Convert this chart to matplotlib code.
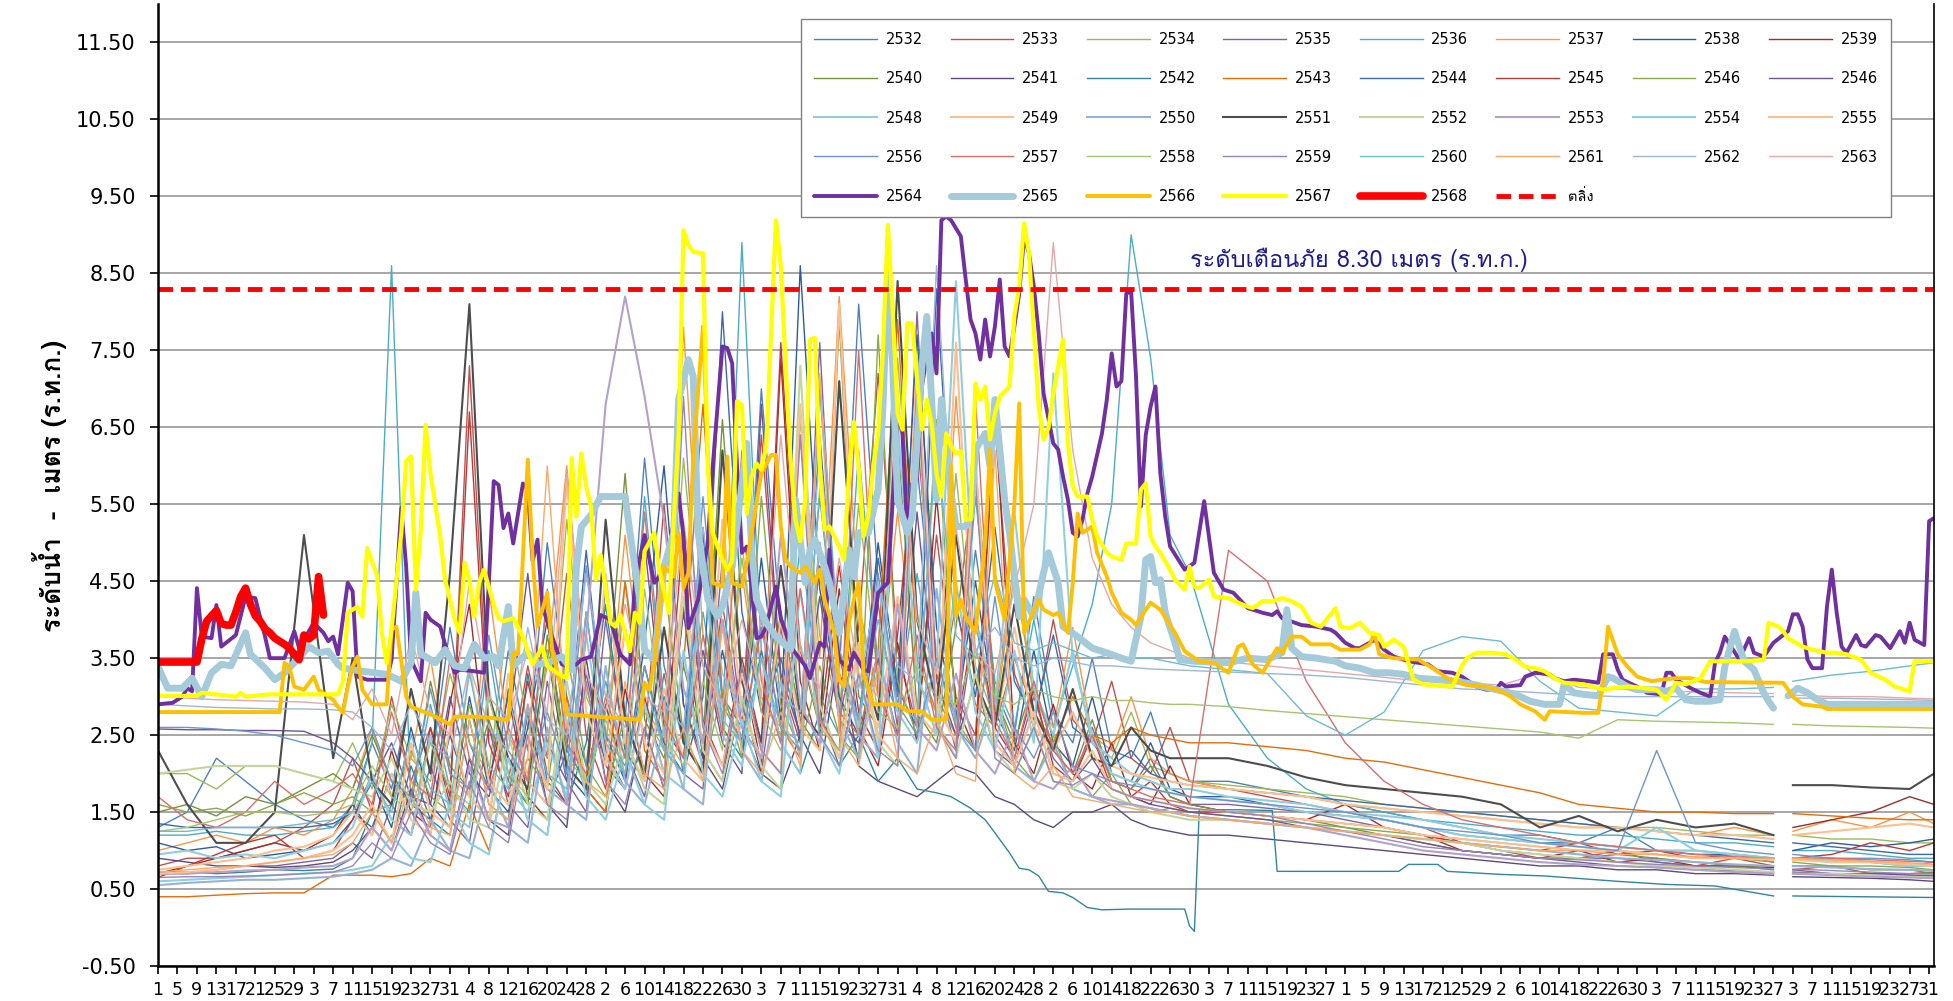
# Water level chart, station ร.ท.ก. - yearly comparison 2532-2568
import numpy as np
import matplotlib.pyplot as plt
from matplotlib import font_manager, ft2font

# look for an installed font that has Thai glyphs
thai_font = 'DejaVu Sans'
for f in font_manager.fontManager.ttflist:
    try:
        if f.weight in (400, 'normal', 'regular') and f.style == 'normal':
            if ft2font.FT2Font(f.fname).get_char_index(0x0E23):
                thai_font = f.name
                break
    except Exception:
        pass

# ---------------- data ----------------
# x axis = day of water year (0 = 1 April ... 365 = 31 March)
tick_labels = ['1', '5', '9', '13', '17', '21', '25', '29',
               '3', '7', '11', '15', '19', '23', '27', '31',
               '4', '8', '12', '16', '20', '24', '28',
               '2', '6', '10', '14', '18', '22', '26', '30',
               '3', '7', '11', '15', '19', '23', '27', '31',
               '4', '8', '12', '16', '20', '24', '28',
               '2', '6', '10', '14', '18', '22', '26', '30',
               '3', '7', '11', '15', '19', '23', '27',
               '1', '5', '9', '13', '17', '21', '25', '29',
               '2', '6', '10', '14', '18', '22', '26', '30',
               '3', '7', '11', '15', '19', '23', '27',
               '3', '7', '11', '15', '19', '23', '27', '31']
tick_days = list(range(0, 365, 4))
gap_day = 334          # empty slot (29 Feb) - lines break here
bank_level = 8.30      # ตลิ่ง / warning level

# sampling days used for the older years
thin_days = [0, 6, 12, 18, 24, 30, 36] + list(range(40, 213, 4)) + \
            list(range(220, 333, 8)) + [336, 344, 352, 360, 365]

v2532 = [1.3, 1.5, 2.2, 1.9, 1.6, 1.4, 1.3,
         1.6, 2.4, 1.8, 3.1, 2.0, 3.9, 2.4, 1.8, 3.6, 2.3, 5.0, 3.0, 2.1, 4.4, 2.7, 6.1,
         3.4, 2.4, 5.2, 3.0, 2.6, 7.0, 3.9, 2.8, 5.6, 3.3, 8.1, 4.5, 3.0, 6.0, 3.5, 2.7,
         4.9, 3.1, 2.5, 4.3, 2.8, 2.4, 3.5, 2.3, 2.2, 2.8, 2.0, 1.9,
         1.9, 1.8, 1.7, 1.6, 1.5, 1.4, 1.3, 1.2, 1.2, 1.1, 1.3, 1.0, 1.0, 0.95, 0.9,
         0.9, 0.9, 0.85, 0.8, 0.85]
v2533 = [0.8, 0.9, 0.9, 1.0, 1.1, 1.3, 1.6,
         2.2, 1.5, 3.0, 1.9, 2.6, 1.7, 7.3, 2.6, 1.9, 3.4, 2.2, 4.6, 2.5, 1.8, 3.9, 2.4,
         5.5, 2.9, 2.1, 4.2, 2.6, 6.4, 3.2, 2.4, 4.7, 2.7, 3.9, 7.2, 3.6, 2.6, 5.1, 3.0,
         2.5, 6.5, 3.3, 2.6, 4.0, 2.7, 2.4, 3.2, 2.2, 2.0, 2.6, 1.9,
         1.8, 1.7, 1.6, 1.5, 1.4, 1.3, 1.1, 1.0, 0.9, 0.9, 1.0, 0.85, 0.8, 0.9, 0.8,
         0.75, 0.8, 0.7, 0.7, 0.72]
v2534 = [2.0, 2.0, 1.8, 2.1, 2.1, 2.0, 1.9,
         2.4, 1.8, 2.9, 2.2, 1.9, 3.3, 2.4, 2.0, 4.1, 2.6, 2.2, 5.3, 3.0, 2.4, 4.5, 2.8,
         2.3, 6.1, 3.4, 2.6, 4.8, 3.0, 2.5, 6.6, 3.8, 2.8, 5.5, 3.2, 7.4, 4.1, 2.9, 5.9,
         3.4, 2.7, 4.6, 3.0, 2.5, 3.6, 2.4, 2.2, 2.8, 2.1, 2.0, 1.9,
         1.85, 1.8, 1.75, 1.7, 1.6, 1.55, 1.5, 1.45, 1.4, 1.35, 1.3, 1.3, 1.25, 1.2, 1.2,
         1.2, 1.15, 1.15, 1.1, 1.1]
v2535 = [0.7, 0.7, 0.75, 0.8, 0.8, 0.85, 0.9,
         1.1, 0.9, 1.6, 1.2, 2.1, 1.4, 1.1, 2.6, 1.6, 1.3, 3.2, 1.9, 1.5, 4.0, 2.3, 1.7,
         3.3, 2.0, 1.8, 4.8, 2.6, 2.0, 3.9, 2.4, 7.6, 3.0, 2.2, 4.2, 2.6, 8.0, 3.3, 2.3,
         4.0, 2.5, 2.1, 3.0, 2.2, 1.9, 2.6, 1.9, 1.8, 2.2, 1.7, 1.6,
         1.6, 1.55, 1.5, 1.4, 1.3, 1.2, 1.1, 1.0, 0.95, 0.9, 0.9, 0.85, 0.8, 0.8, 0.75,
         0.75, 0.7, 0.7, 0.68, 0.66]
v2536 = [1.2, 1.2, 1.25, 1.2, 1.2, 1.25, 1.3,
         1.5, 2.4, 8.6, 1.6, 2.9, 1.8, 1.5, 3.6, 2.0, 1.6, 4.4, 2.4, 1.8, 3.2, 2.2, 5.6,
         2.9, 2.2, 4.1, 2.6, 8.9, 3.6, 2.4, 5.0, 3.0, 2.5, 6.2, 3.4, 2.8, 4.6, 3.0, 2.5,
         5.6, 3.2, 2.6, 4.0, 2.6, 3.4, 4.2, 5.5, 9.0, 7.4, 5.1, 4.6,
         2.9, 2.2, 1.8, 1.6, 1.5, 1.4, 1.35, 1.3, 1.25, 1.2, 1.2, 1.15, 1.1, 1.1, 1.05,
         1.0, 1.0, 0.95, 0.9, 0.9]
v2537 = [1.0, 1.1, 1.2, 1.1, 1.3, 1.2, 1.4,
         1.8, 2.6, 1.7, 2.2, 3.5, 2.0, 1.7, 4.4, 2.5, 2.0, 3.4, 6.0, 3.1, 2.3, 5.1, 2.9,
         2.4, 7.8, 3.8, 2.7, 4.6, 2.9, 2.6, 6.4, 3.5, 8.2, 4.2, 3.0, 5.4, 3.2, 2.8, 6.9,
         3.6, 2.8, 4.8, 3.0, 2.6, 3.9, 2.5, 2.3, 3.0, 2.2, 2.0, 1.9,
         1.8, 1.75, 1.7, 1.6, 1.55, 1.5, 1.45, 1.4, 1.35, 1.3, 1.3, 1.25, 1.2, 1.3, 1.2,
         1.25, 1.4, 1.3, 1.5, 1.35]
v2538 = [1.1, 1.0, 1.05, 0.9, 0.95, 1.0, 1.1,
         1.4, 1.9, 1.3, 2.6, 1.6, 1.3, 3.0, 1.8, 1.5, 2.6, 4.0, 2.0, 1.7, 2.9, 1.9, 3.7,
         6.0, 2.9, 2.2, 3.6, 2.4, 4.8, 2.7, 8.6, 4.4, 3.0, 2.5, 5.0, 3.1, 7.7, 3.9, 2.7,
         4.5, 2.8, 2.3, 3.6, 2.4, 2.1, 3.0, 2.0, 1.9, 2.4, 1.8, 1.7,
         1.7, 1.6, 1.5, 1.45, 1.4, 1.3, 1.2, 1.15, 1.1, 1.1, 1.05, 1.0, 0.95, 0.95, 0.9,
         1.0, 1.1, 1.05, 1.1, 1.15]
v2539 = [0.7, 0.8, 0.9, 1.0, 1.1, 1.0, 1.2,
         1.6, 1.2, 2.3, 1.5, 1.3, 2.9, 4.2, 1.9, 3.0, 1.7, 1.4, 2.6, 1.8, 1.5, 3.1, 2.0,
         1.7, 4.2, 2.3, 1.9, 3.4, 2.1, 7.4, 3.2, 2.3, 4.4, 2.6, 2.1, 3.7, 2.4, 5.6, 2.9,
         2.3, 6.8, 2.4, 2.0, 2.9, 2.0, 1.8, 2.4, 1.7, 1.6, 2.1, 1.6,
         1.5, 1.45, 1.4, 1.6, 1.3, 1.2, 1.0, 0.95, 0.9, 1.0, 0.85, 0.9, 0.8, 0.8, 0.78,
         1.3, 1.4, 1.5, 1.7, 1.6]
v2540 = [1.5, 1.6, 1.45, 1.7, 1.6, 1.8, 2.0,
         1.8, 2.5, 1.9, 1.6, 3.2, 2.1, 1.8, 2.7, 1.9, 1.6, 3.8, 2.3, 1.9, 2.8, 5.9, 2.7,
         2.2, 3.4, 2.4, 6.6, 3.3, 2.4, 4.1, 2.7, 2.3, 7.9, 3.0, 2.6, 6.4, 2.8, 2.4, 3.9,
         6.0, 3.0, 2.4, 3.2, 2.3, 2.0, 2.7, 1.9, 1.8, 2.1, 1.7, 1.6,
         1.5, 1.45, 1.4, 1.3, 1.2, 1.1, 1.0, 0.95, 0.9, 0.9, 0.95, 0.9, 0.85, 0.8, 0.8,
         0.8, 0.8, 0.75, 0.75, 0.7]
v2541 = [0.9, 0.85, 0.8, 0.8, 0.78, 0.8, 0.85,
         1.0, 1.3, 1.0, 1.8, 1.2, 1.0, 2.2, 1.4, 1.2, 2.8, 1.6, 1.3, 3.5, 1.9, 1.5, 2.6,
         1.8, 4.1, 2.2, 1.8, 3.0, 2.0, 1.8, 2.5, 2.0, 3.6, 2.1, 1.9, 1.8, 1.7, 1.9, 2.1,
         2.0, 1.7, 1.6, 1.4, 1.3, 1.5, 1.5, 1.6, 1.4, 1.3, 1.25, 1.2,
         1.2, 1.15, 1.1, 1.05, 1.0, 0.95, 0.9, 0.85, 0.8, 0.8, 0.75, 0.75, 0.7, 0.7, 0.68,
         0.66, 0.65, 0.64, 0.62, 0.6]
# 2542 has its own day list (sharp drop in October)
d2542 = [0, 6, 12, 18, 24, 30, 36, 40, 44, 48, 52, 56, 60, 64, 68, 72, 76, 80, 84, 88,
         92, 96, 100, 104, 108, 112, 116, 120, 124, 128, 132, 136, 140, 144, 148, 152,
         156, 160, 163, 167, 170, 172, 175, 177, 179, 181, 183, 186, 188, 191, 194, 200,
         208, 211, 212, 213, 214, 222, 229, 230, 240, 255, 257, 263, 265, 276, 285, 300,
         310, 320, 332, 336, 350, 365]
v2542 = [0.72, 0.72, 0.7, 0.72, 0.75, 0.74, 0.76, 0.9, 1.5, 1.1, 2.1, 1.4, 1.2, 2.7, 1.6,
         1.4, 3.3, 1.9, 1.6, 2.4, 4.2, 2.3, 1.9, 3.0, 2.2, 5.1, 2.6, 2.2, 3.6, 2.4, 2.0,
         2.8, 2.1, 2.5, 1.9, 2.2, 1.8, 1.75, 1.7, 1.55, 1.4, 1.23, 0.97, 0.77, 0.75, 0.67,
         0.47, 0.45, 0.39, 0.26, 0.23, 0.24, 0.24, 0.24, 0.02, -0.05, 1.53, 1.53, 1.52,
         0.73, 0.73, 0.73, 0.82, 0.82, 0.73, 0.69, 0.67, 0.6, 0.56, 0.54, 0.41, 0.41, 0.4,
         0.39]
v2543 = [0.4, 0.4, 0.42, 0.44, 0.45, 0.45, 0.68,
         0.68, 0.68, 0.66, 0.7, 0.9, 0.8, 1.6, 1.0, 2.2, 1.4, 1.2, 3.0, 1.8, 1.5, 4.5, 2.3,
         1.9, 3.4, 6.8, 3.0, 2.4, 4.0, 2.6, 2.2, 5.0, 2.8, 2.5, 3.6, 7.9, 3.5, 2.8, 4.2,
         2.9, 2.6, 3.5, 2.8, 2.4, 3.0, 2.5, 2.4, 2.6, 2.5, 2.45, 2.4,
         2.4, 2.35, 2.3, 2.2, 2.15, 2.05, 1.95, 1.85, 1.75, 1.6, 1.55, 1.5, 1.5, 1.48, 1.48,
         1.48, 1.45, 1.42, 1.4, 1.4]
v2544 = [1.35, 1.3, 1.3, 1.3, 1.3, 1.3, 1.35,
         1.5, 1.3, 2.0, 1.6, 1.4, 2.5, 1.7, 1.4, 3.1, 1.9, 1.6, 2.3, 4.9, 2.5, 1.9, 3.4,
         2.4, 2.0, 3.0, 8.0, 4.1, 2.8, 3.5, 2.5, 6.4, 3.3, 2.7, 4.8, 3.1, 2.6, 8.3, 4.2,
         3.0, 5.2, 3.2, 2.7, 3.8, 2.6, 2.4, 2.1, 2.3, 2.0, 1.9, 1.85,
         1.8, 1.75, 1.7, 1.65, 1.6, 1.55, 1.5, 1.45, 1.4, 1.35, 1.3, 1.25, 1.2, 1.15, 1.1,
         1.1, 1.05, 1.0, 0.95, 0.95]
v2545 = [0.65, 0.8, 0.95, 1.1, 1.2, 0.9, 1.0,
         1.4, 2.0, 1.4, 1.2, 2.6, 1.6, 6.7, 2.4, 1.7, 3.2, 2.0, 1.6, 4.1, 2.3, 1.8, 3.0,
         2.0, 5.2, 2.7, 2.1, 3.5, 2.4, 7.6, 3.6, 2.6, 4.7, 2.8, 2.3, 3.8, 6.5, 3.2, 2.5,
         4.1, 2.6, 2.2, 3.1, 2.1, 1.9, 2.5, 1.8, 1.7, 1.9, 1.6, 1.5,
         1.5, 1.45, 1.4, 1.35, 1.3, 1.2, 1.1, 1.05, 1.0, 1.1, 0.95, 1.0, 0.9, 0.95, 0.85,
         0.9, 0.95, 1.1, 1.0, 1.1]
v2546a = [1.6, 1.5, 1.55, 1.45, 1.6, 1.75, 1.6,
          1.7, 1.5, 1.6, 2.3, 1.7, 1.5, 2.9, 1.9, 1.6, 2.2, 1.8, 3.6, 2.1, 1.7, 2.8, 1.9,
          4.5, 2.5, 2.0, 3.1, 2.2, 5.6, 2.9, 2.3, 3.4, 2.5, 2.2, 7.7, 3.2, 2.5, 6.6, 2.7,
          2.3, 3.1, 2.2, 1.9, 2.5, 1.8, 1.7, 2.0, 1.6, 1.5, 1.55, 1.5,
          1.45, 1.4, 1.35, 1.3, 1.25, 1.2, 1.15, 1.1, 1.05, 1.0, 1.0, 0.95, 0.9, 0.9, 0.85,
          0.85, 0.8, 0.8, 0.78, 0.75]
v2546b = [2.58, 2.57, 2.57, 2.56, 2.56, 2.55, 2.4,
          2.2, 1.9, 2.4, 1.7, 1.6, 3.0, 2.0, 1.7, 2.6, 4.6, 2.4, 1.9, 3.3, 2.1, 1.8, 5.0,
          2.6, 2.2, 3.6, 2.4, 2.0, 6.8, 3.3, 2.5, 4.3, 2.7, 2.4, 3.5, 2.5, 5.4, 2.9, 2.4,
          3.2, 2.3, 2.1, 2.8, 2.0, 1.9, 2.2, 1.8, 1.7, 1.6, 1.55, 1.5,
          1.45, 1.4, 1.3, 1.25, 1.2, 1.1, 1.0, 0.95, 0.9, 0.85, 0.8, 0.78, 0.75, 0.74, 0.72,
          0.72, 0.7, 0.7, 0.68, 0.68]
v2548 = [0.95, 1.0, 0.9, 0.95, 0.9, 1.0, 1.1,
         1.3, 2.0, 1.4, 1.2, 2.5, 1.5, 1.3, 3.1, 1.8, 1.5, 2.4, 1.7, 3.8, 2.2, 1.8, 2.9,
         2.0, 1.8, 4.7, 2.5, 2.1, 3.5, 2.4, 2.0, 7.1, 3.6, 2.6, 4.5, 2.8, 2.4, 3.4, 8.4,
         4.0, 2.9, 5.4, 3.1, 2.5, 3.6, 2.4, 2.2, 2.0, 1.9, 1.8, 1.8,
         1.7, 1.65, 1.6, 1.5, 1.45, 1.4, 1.3, 1.2, 1.15, 1.1, 1.05, 1.0, 1.0, 0.95, 0.9,
         0.9, 0.85, 0.85, 0.8, 0.8]
v2549 = [0.75, 0.8, 0.85, 0.9, 1.0, 1.05, 1.2,
         1.5, 1.2, 2.0, 1.4, 1.2, 2.6, 1.7, 1.4, 3.3, 1.9, 1.6, 2.7, 1.8, 4.6, 2.4, 1.9,
         3.1, 2.2, 1.9, 5.3, 2.8, 2.2, 4.0, 2.6, 2.3, 8.1, 3.2, 2.6, 4.3, 2.8, 2.5, 7.6,
         3.2, 2.6, 3.9, 2.6, 2.3, 2.8, 2.2, 2.1, 2.0, 1.95, 1.9, 1.85,
         1.8, 1.75, 1.7, 1.6, 1.55, 1.5, 1.45, 1.4, 1.35, 1.3, 1.3, 1.25, 1.2, 1.2, 1.15,
         1.2, 1.25, 1.3, 1.35, 1.3]
v2550 = [0.55, 0.58, 0.6, 0.62, 0.62, 0.64, 0.66,
         0.7, 0.75, 0.9, 0.8, 1.4, 1.0, 0.9, 1.9, 1.3, 1.1, 2.6, 1.6, 1.4, 3.4, 1.9, 1.6,
         2.6, 1.8, 1.6, 4.0, 2.3, 1.9, 3.2, 2.2, 5.0, 2.7, 2.2, 3.6, 2.4, 2.0, 4.4, 2.6,
         2.2, 3.0, 2.1, 1.9, 2.4, 1.8, 1.7, 1.6, 1.6, 1.55, 1.5, 1.45,
         1.4, 1.35, 1.3, 1.25, 1.2, 1.15, 1.1, 1.05, 1.0, 0.95, 0.9, 0.88, 0.85, 0.82, 0.8,
         0.8, 0.78, 0.76, 0.75, 0.74]
v2551 = [2.3, 1.6, 1.1, 1.1, 1.5, 5.1, 2.2,
         3.5, 1.9, 1.6, 3.1, 2.0, 4.6, 8.1, 3.0, 2.2, 1.8, 3.6, 2.1, 1.8, 5.3, 2.7, 2.0,
         3.9, 2.4, 2.0, 6.2, 3.2, 2.4, 4.7, 2.8, 2.5, 7.1, 3.6, 2.7, 8.4, 4.0, 2.9, 5.1,
         3.2, 2.6, 4.2, 2.8, 2.3, 3.1, 2.2, 2.1, 2.6, 2.3, 2.2, 2.2,
         2.2, 2.1, 1.95, 1.85, 1.8, 1.75, 1.7, 1.6, 1.3, 1.45, 1.25, 1.4, 1.3, 1.35, 1.2,
         1.85, 1.85, 1.82, 1.8, 2.0]
v2552 = [2.0, 2.05, 2.1, 2.1, 2.1, 2.0, 1.9,
         1.8, 1.7, 2.2, 1.6, 1.5, 1.9, 1.4, 1.3, 2.5, 1.6, 1.4, 3.2, 1.9, 1.6, 2.5, 1.8,
         1.6, 4.3, 2.3, 1.9, 3.0, 2.1, 1.8, 7.3, 2.9, 2.2, 3.7, 2.4, 2.1, 6.9, 2.7, 2.2,
         3.3, 2.3, 2.0, 2.6, 1.9, 1.8, 2.0, 1.7, 1.6, 1.5, 1.45, 1.4,
         1.4, 1.35, 1.3, 1.25, 1.2, 1.15, 1.1, 1.0, 0.95, 0.9, 0.85, 0.8, 0.78, 0.75, 0.72,
         0.7, 0.7, 0.68, 0.66, 0.65]
v2553 = [0.7, 0.7, 0.72, 0.74, 0.75, 0.78, 0.8,
         0.9, 1.3, 1.0, 1.7, 1.2, 1.0, 2.1, 1.4, 1.3, 2.9, 1.8, 1.6, 3.8, 6.8, 8.2, 6.9,
         5.3, 3.1, 2.4, 4.0, 2.6, 2.2, 5.1, 2.9, 2.4, 3.6, 2.5, 2.2, 4.2, 2.6, 2.3, 3.3,
         2.3, 2.0, 2.6, 1.9, 1.8, 2.1, 1.7, 1.65, 1.6, 1.55, 1.5, 1.45,
         1.4, 1.35, 1.3, 1.2, 1.1, 1.0, 0.95, 0.9, 0.85, 0.82, 0.8, 0.78, 0.75, 0.72, 0.7,
         0.7, 0.68, 0.66, 0.65, 0.64]
v2554 = [0.6, 0.62, 0.64, 0.66, 0.68, 0.7, 0.72,
         0.75, 0.8, 1.2, 0.9, 0.85, 1.6, 1.1, 0.95, 2.2, 1.4, 1.2, 2.9, 1.7, 1.4, 2.3, 1.6,
         1.4, 3.6, 2.0, 1.7, 2.7, 1.9, 1.7, 4.4, 2.5, 2.0, 3.3, 2.2, 6.6, 3.3, 2.5, 4.5,
         2.8, 2.3, 3.6, 2.4, 7.2, 3.5, 2.5, 2.0, 1.9, 1.8, 1.75, 1.7,
         1.65, 1.6, 1.5, 1.45, 1.4, 1.3, 1.2, 1.15, 1.1, 1.05, 1.0, 1.3, 1.0, 0.95, 0.9,
         0.9, 0.88, 0.85, 0.8, 0.8]
v2555 = [0.7, 0.72, 0.75, 0.8, 0.85, 0.9, 1.0,
         1.2, 1.6, 1.1, 2.4, 1.5, 1.3, 3.4, 1.9, 1.6, 2.5, 1.8, 5.8, 2.8, 2.1, 3.9, 2.4,
         2.0, 4.5, 2.6, 2.1, 3.3, 2.3, 2.0, 6.8, 2.7, 2.2, 3.6, 2.5, 2.2, 7.4, 2.9, 2.4,
         6.1, 2.4, 2.1, 2.8, 2.0, 1.9, 2.3, 1.8, 1.7, 1.65, 1.6, 1.55,
         1.5, 1.45, 1.4, 1.35, 1.3, 1.2, 1.15, 1.1, 1.05, 1.0, 1.0, 0.95, 0.9, 0.9, 0.88,
         0.88, 0.85, 0.85, 0.82, 0.8]
v2556 = [2.6, 2.6, 2.58, 2.55, 2.5, 2.4, 2.3,
         2.1, 2.6, 1.9, 1.7, 3.1, 2.0, 1.8, 3.8, 2.3, 1.9, 2.8, 2.0, 4.7, 2.5, 2.1, 3.4,
         2.3, 2.0, 5.6, 2.9, 2.4, 3.9, 2.6, 2.3, 7.0, 3.6, 2.7, 4.6, 2.9, 2.5, 3.5, 2.6,
         2.3, 4.3, 2.6, 2.2, 2.8, 2.1, 2.0, 1.9, 1.85, 1.8, 1.75, 1.7,
         1.65, 1.6, 1.55, 1.5, 1.4, 1.3, 1.25, 1.2, 1.1, 1.05, 1.0, 2.3, 1.1, 1.0, 0.95,
         0.95, 0.9, 0.9, 0.88, 0.85]
v2557 = [1.7, 1.4, 1.3, 1.5, 1.9, 1.6, 1.8,
         2.0, 1.6, 2.8, 1.9, 1.7, 3.5, 2.2, 1.8, 2.6, 1.9, 4.3, 2.4, 2.0, 3.0, 2.2, 5.4,
         2.7, 2.2, 3.8, 2.5, 6.2, 3.2, 2.4, 4.4, 2.7, 2.3, 7.5, 3.0, 2.5, 3.8, 2.6, 2.3,
         6.9, 2.7, 2.2, 3.2, 2.3, 2.0, 2.5, 1.9, 1.8, 1.7, 1.65, 1.6,
         4.9, 4.5, 3.2, 2.4, 1.9, 1.6, 1.4, 1.3, 1.2, 1.1, 1.05, 1.0, 0.95, 0.92, 0.9,
         0.9, 0.9, 0.88, 0.86, 0.85]
v2558 = [1.25, 1.3, 1.4, 1.5, 1.5, 1.45, 1.5,
         1.6, 2.1, 1.7, 1.5, 2.4, 1.8, 1.6, 3.0, 2.0, 1.7, 3.6, 2.2, 1.9, 2.7, 2.0, 4.4,
         2.5, 2.1, 3.2, 2.3, 5.0, 2.8, 2.3, 3.7, 2.6, 2.3, 4.2, 2.8, 2.6, 3.4, 3.0, 2.9,
         3.6, 3.0, 2.9, 3.1, 3.0, 2.95, 3.0, 2.95, 2.95, 2.92, 2.9, 2.9,
         2.87, 2.82, 2.78, 2.74, 2.7, 2.66, 2.62, 2.58, 2.54, 2.46, 2.7, 2.68, 2.67, 2.66, 2.64,
         2.64, 2.62, 2.61, 2.6, 2.59]
v2559 = [0.65, 0.66, 0.66, 0.67, 0.68, 0.7, 0.72,
         0.8, 1.1, 0.9, 1.5, 1.1, 0.95, 1.9, 1.3, 1.1, 2.5, 1.6, 1.4, 3.2, 1.9, 1.6, 2.6,
         1.8, 6.9, 2.6, 2.0, 3.4, 2.3, 2.0, 6.4, 2.5, 2.1, 3.3, 2.3, 2.1, 7.1, 2.6, 2.2,
         5.8, 2.2, 2.0, 2.6, 1.9, 1.85, 2.0, 1.8, 1.7, 1.65, 1.6, 1.55,
         1.5, 1.45, 1.35, 1.25, 1.15, 1.05, 1.0, 0.95, 0.9, 0.88, 0.85, 0.82, 0.8, 0.78, 0.76,
         0.76, 0.74, 0.72, 0.7, 0.7]
v2560 = [1.25, 1.25, 1.3, 1.3, 1.3, 1.35, 1.4,
         1.5, 1.9, 1.5, 2.5, 1.8, 1.6, 3.3, 2.1, 1.8, 2.8, 2.0, 1.8, 4.1, 2.4, 2.0, 3.2,
         2.3, 2.0, 4.8, 2.7, 2.4, 3.5, 2.6, 2.4, 5.7, 3.2, 2.7, 4.0, 2.9, 2.7, 6.3, 3.8,
         3.5, 4.6, 3.7, 3.6, 3.7, 3.6, 3.5, 3.55, 3.5, 3.5, 3.45, 3.4,
         3.35, 3.3, 2.75, 2.5, 2.8, 3.6, 3.78, 3.72, 3.2, 2.85, 2.8, 2.75, 3.1, 3.1, 3.12,
         3.2, 3.28, 3.33, 3.4, 3.44]
v2561 = [0.72, 0.75, 0.78, 0.8, 0.85, 0.9, 0.95,
         1.1, 1.5, 1.1, 1.9, 1.3, 1.2, 2.7, 1.6, 1.4, 2.2, 6.0, 2.6, 1.9, 1.7, 3.2, 2.0,
         1.8, 2.6, 1.9, 3.9, 2.3, 2.0, 2.8, 2.1, 7.2, 2.5, 2.1, 3.4, 2.2, 2.0, 2.7, 2.0,
         1.9, 6.2, 2.0, 1.8, 2.1, 1.7, 1.65, 1.6, 1.55, 1.5, 1.5, 1.45,
         1.4, 1.35, 1.3, 1.25, 1.2, 1.15, 1.1, 1.05, 1.0, 1.0, 0.95, 0.95, 0.92, 0.9, 0.9,
         0.9, 0.88, 0.86, 0.84, 0.82]
v2562 = [2.9, 2.88, 2.86, 2.85, 2.84, 2.84, 2.83,
         2.8, 2.6, 2.3, 2.9, 2.4, 2.2, 3.4, 2.6, 2.3, 3.9, 2.7, 2.5, 4.6, 3.0, 2.6, 3.7,
         2.9, 2.6, 5.2, 3.3, 2.8, 4.0, 3.0, 2.8, 6.2, 3.6, 3.1, 4.5, 3.4, 3.2, 8.6, 4.4,
         3.6, 3.9, 3.5, 3.4, 3.5, 3.45, 3.4, 3.4, 3.38, 3.36, 3.35, 3.34,
         3.32, 3.3, 3.28, 3.25, 3.2, 3.15, 3.1, 3.08, 3.05, 3.02, 3.0, 3.0, 3.0, 3.0, 3.0,
         2.98, 2.98, 2.97, 2.96, 2.95]
v2563 = [3.0, 2.98, 2.96, 2.95, 2.94, 2.93, 2.9,
         2.7, 3.1, 2.5, 3.8, 2.8, 2.5, 4.5, 3.0, 2.7, 3.6, 2.8, 5.9, 3.3, 2.8, 4.2, 3.0,
         2.8, 5.3, 3.4, 2.9, 4.0, 3.0, 6.4, 3.6, 3.1, 4.8, 3.3, 3.0, 7.0, 4.0, 3.3, 5.2,
         3.6, 3.3, 4.4, 5.5, 8.9, 6.2, 4.8, 4.2, 3.9, 3.7, 3.6, 3.5,
         3.45, 3.4, 3.35, 3.3, 3.25, 3.2, 3.18, 3.15, 3.3, 3.12, 3.1, 3.08, 3.06, 3.05, 3.04,
         3.02, 3.0, 3.0, 2.98, 2.97]

# recent years: (day, level)
s2564 = [(0, 2.90), (3, 2.92), (5, 3.0), (6, 3.11), (7, 3.07), (8, 4.41), (9, 3.78), (11, 3.76),
         (12, 4.19), (13, 3.65), (16, 3.80), (18, 4.30), (20, 4.28), (22, 3.78), (23, 3.50),
         (26, 3.50), (28, 3.85), (29, 3.63), (32, 3.96), (34, 3.83), (35, 3.72), (36, 3.78),
         (37, 3.55), (39, 4.48), (40, 4.37), (41, 3.26), (43, 3.22), (47, 3.22), (48, 3.48),
         (50, 5.45), (51, 4.69), (52, 3.48), (54, 3.20), (55, 4.09), (56, 4.00), (58, 3.91),
         (59, 3.68), (61, 3.31), (62, 3.35), (65, 3.33), (67, 3.31), (68, 4.48), (69, 5.80),
         (70, 5.75), (71, 5.19), (72, 5.38), (73, 4.99), (75, 5.77), (76, 5.69), (77, 4.76),
         (78, 5.04), (79, 4.17), (81, 3.78), (83, 3.42), (84, 3.40), (86, 3.42), (87, 3.48),
         (89, 3.52), (91, 4.06), (93, 4.00), (95, 3.55), (97, 3.42), (98, 4.48), (100, 5.10),
         (101, 4.78), (102, 4.48), (103, 4.56), (105, 4.91), (107, 5.64), (108, 5.08),
         (109, 3.89), (111, 4.26), (113, 4.99), (114, 5.99), (116, 7.55), (117, 7.53),
         (118, 7.33), (119, 6.0), (120, 4.87), (121, 4.95), (122, 4.41), (123, 3.76),
         (124, 3.78), (125, 3.91), (127, 4.43), (128, 4.02), (130, 3.65), (133, 3.40),
         (134, 3.24), (136, 3.70), (137, 3.65), (138, 4.91), (139, 3.87), (140, 3.48),
         (142, 3.35), (143, 3.57), (145, 3.35), (146, 3.33), (148, 4.35), (150, 4.48),
         (151, 5.56), (152, 6.68), (153, 6.42), (154, 5.13), (155, 5.77), (156, 5.82),
         (157, 7.03), (158, 7.42), (159, 7.72), (160, 7.20), (161, 9.19), (162, 9.24),
         (163, 9.19), (165, 8.98), (166, 8.42), (167, 7.90), (168, 7.72), (169, 7.38),
         (170, 7.90), (171, 7.42), (172, 7.81), (173, 8.42), (174, 7.55), (175, 7.42),
         (176, 7.81), (177, 8.24), (178, 8.98), (179, 8.76), (180, 8.33), (181, 7.72),
         (182, 6.94), (184, 6.29), (185, 6.21), (186, 5.86), (187, 5.56), (188, 5.13),
         (189, 5.08), (190, 5.30), (191, 5.64), (192, 5.86), (194, 6.42), (195, 6.86),
         (196, 7.46), (197, 7.03), (198, 7.10), (199, 8.24), (200, 8.26), (201, 7.16),
         (202, 5.47), (203, 6.40), (204, 6.77), (205, 7.03), (206, 5.90), (207, 5.34),
         (208, 4.95), (211, 4.65), (213, 4.74), (215, 5.54), (217, 4.61), (219, 4.39),
         (221, 4.35), (224, 4.15), (227, 4.09), (229, 4.06), (230, 4.11), (231, 4.02),
         (235, 3.93), (238, 3.91), (241, 3.87), (242, 3.83), (244, 3.70), (246, 3.63),
         (247, 3.63), (249, 3.70), (250, 3.74), (252, 3.61), (254, 3.52), (257, 3.46),
         (261, 3.42), (263, 3.33), (266, 3.31), (268, 3.26), (271, 3.13), (273, 3.09),
         (275, 3.09), (276, 3.18), (277, 3.13), (280, 3.15), (281, 3.26), (283, 3.31),
         (286, 3.29), (287, 3.24), (289, 3.20), (291, 3.22), (294, 3.20), (296, 3.18),
         (297, 3.55), (299, 3.55), (300, 3.35), (301, 3.22), (304, 3.13), (306, 3.05),
         (309, 3.03), (310, 3.31), (311, 3.31), (312, 3.22), (315, 3.11), (317, 3.05),
         (319, 3.00), (320, 3.44), (321, 3.57), (322, 3.78), (325, 3.48), (327, 3.76),
         (328, 3.57), (330, 3.52), (332, 3.70), (335, 3.85), (336, 4.07), (337, 4.07),
         (338, 3.91), (339, 3.48), (340, 3.37), (342, 3.37), (343, 4.17), (344, 4.65),
         (345, 4.09), (346, 3.65), (347, 3.57), (349, 3.80), (350, 3.67), (351, 3.65),
         (353, 3.80), (354, 3.78), (356, 3.63), (358, 3.85), (359, 3.70), (360, 3.96),
         (361, 3.74), (363, 3.67), (364, 5.28), (365, 5.32)]
s2565 = [(0, 3.39), (2, 3.11), (5, 3.11), (7, 3.24), (9, 3.0), (11, 3.31), (13, 3.42), (15, 3.40),
         (18, 3.83), (19, 3.55), (22, 3.37), (24, 3.22), (26, 3.31), (28, 3.44), (31, 3.65),
         (33, 3.57), (35, 3.59), (37, 3.42), (38, 3.37), (42, 3.33), (47, 3.29), (50, 3.20),
         (52, 3.44), (53, 4.35), (54, 3.55), (55, 3.52), (57, 3.44), (59, 3.61), (61, 3.40),
         (63, 3.37), (65, 3.68), (67, 3.50), (69, 3.52), (70, 3.40), (72, 4.17), (73, 3.40),
         (76, 3.57), (78, 3.42), (80, 3.44), (83, 3.52), (85, 3.35), (86, 4.69), (87, 5.21),
         (89, 5.36), (91, 5.60), (96, 5.60), (97, 5.13), (99, 4.26), (100, 3.61), (102, 3.48),
         (104, 4.69), (106, 5.13), (107, 6.86), (109, 7.38), (110, 7.16), (111, 5.13),
         (112, 4.69), (113, 4.26), (115, 4.04), (116, 4.17), (118, 4.69), (121, 6.29),
         (122, 4.91), (123, 4.26), (125, 3.96), (127, 3.78), (130, 3.61), (131, 5.56),
         (133, 4.48), (134, 4.91), (135, 5.04), (137, 4.69), (138, 4.48), (140, 3.83),
         (142, 4.91), (143, 4.56), (144, 5.13), (146, 5.13), (148, 5.69), (149, 6.77),
         (150, 8.59), (151, 7.29), (152, 5.56), (154, 5.13), (155, 5.34), (157, 7.29),
         (158, 7.94), (159, 6.86), (160, 5.56), (161, 6.86), (163, 5.64), (164, 5.21),
         (166, 5.21), (167, 5.34), (168, 6.21), (170, 6.42), (171, 5.99), (172, 6.86),
         (174, 5.56), (175, 5.13), (177, 4.04), (178, 4.26), (180, 4.04), (182, 4.61),
         (183, 4.87), (185, 4.48), (186, 3.91), (189, 3.78), (192, 3.63), (195, 3.57),
         (198, 3.50), (200, 3.46), (202, 4.04), (203, 4.78), (204, 4.82), (205, 4.48),
         (206, 4.52), (207, 4.09), (209, 3.70), (210, 3.48), (213, 3.46), (220, 3.44),
         (224, 3.50), (228, 3.48), (231, 3.57), (232, 4.13), (233, 3.63), (235, 3.52),
         (238, 3.50), (242, 3.46), (244, 3.40), (247, 3.37), (250, 3.31), (253, 3.31),
         (256, 3.29), (259, 3.24), (263, 3.22), (267, 3.20), (271, 3.15), (275, 3.09),
         (279, 3.03), (282, 2.94), (285, 2.90), (288, 2.90), (289, 3.16), (291, 3.05),
         (293, 3.03), (296, 3.01), (298, 3.26), (299, 3.24), (302, 3.13), (304, 3.09),
         (308, 3.09), (310, 3.07), (312, 3.11), (314, 2.96), (316, 2.94), (319, 2.94),
         (321, 2.96), (322, 3.39), (324, 3.85), (325, 3.65), (326, 3.46), (328, 3.35),
         (330, 3.05), (331, 2.94), (332, 2.85), (335, 3.01), (337, 3.11), (339, 3.05),
         (341, 2.96), (343, 2.90), (365, 2.90)]
s2566 = [(0, 2.80), (25, 2.80), (26, 3.44), (27, 3.39), (28, 3.13), (30, 3.09), (32, 3.26),
         (33, 3.09), (36, 2.96), (37, 2.87), (38, 2.79), (39, 3.13), (40, 3.39), (41, 3.52),
         (42, 3.09), (44, 2.90), (47, 2.90), (48, 3.87), (49, 3.91), (51, 3.0), (52, 2.87),
         (56, 2.77), (60, 2.64), (61, 2.74), (66, 2.74), (72, 2.70), (73, 3.57), (74, 3.55),
         (76, 6.08), (77, 4.8), (78, 3.91), (80, 4.35), (81, 3.61), (83, 3.09), (84, 2.77),
         (90, 2.74), (99, 2.70), (100, 3.18), (101, 3.09), (102, 3.44), (104, 4.69),
         (106, 4.56), (107, 5.13), (108, 4.41), (109, 4.61), (110, 6.12), (112, 7.81),
         (113, 6.16), (114, 4.48), (116, 4.43), (117, 6.12), (118, 4.48), (120, 4.43),
         (121, 4.74), (122, 5.13), (124, 5.90), (126, 6.14), (127, 6.14), (128, 5.21),
         (129, 4.78), (130, 4.69), (132, 4.61), (133, 4.69), (135, 4.48), (136, 4.65),
         (137, 4.26), (139, 3.83), (140, 3.22), (141, 3.13), (142, 3.96), (143, 4.26),
         (144, 4.48), (145, 3.31), (147, 2.90), (152, 2.90), (154, 2.81), (157, 2.81),
         (159, 2.70), (162, 2.70), (163, 6.0), (164, 4.04), (165, 4.26), (166, 4.04),
         (168, 3.83), (170, 5.0), (171, 6.21), (172, 4.5), (174, 4.0), (176, 5.5), (177, 6.81),
         (178, 3.83), (181, 4.26), (182, 4.13), (184, 4.06), (185, 4.09), (187, 3.83),
         (188, 4.48), (189, 5.38), (190, 5.13), (192, 5.21), (193, 4.87), (195, 4.56),
         (196, 4.35), (198, 4.09), (200, 4.00), (201, 3.93), (203, 4.13), (204, 4.22),
         (206, 4.13), (209, 3.83), (211, 3.59), (214, 3.46), (217, 3.44), (220, 3.31),
         (222, 3.65), (223, 3.68), (225, 3.42), (227, 3.31), (228, 3.42), (230, 3.63),
         (231, 3.57), (233, 3.78), (235, 3.78), (237, 3.68), (241, 3.68), (243, 3.61),
         (247, 3.61), (249, 3.68), (250, 3.82), (251, 3.55), (254, 3.50), (259, 3.48),
         (262, 3.37), (265, 3.24), (269, 3.15), (273, 3.13), (276, 3.07), (278, 3.0),
         (280, 2.90), (283, 2.81), (285, 2.70), (286, 2.81), (293, 2.79), (296, 2.79),
         (297, 3.2), (298, 3.91), (300, 3.55), (302, 3.39), (304, 3.26), (307, 3.20),
         (309, 3.22), (312, 3.24), (315, 3.24), (318, 3.19), (334, 3.18), (336, 3.0),
         (338, 2.90), (342, 2.87), (343, 2.84), (365, 2.84)]
s2567 = [(0, 3.01), (8, 3.01), (9, 3.05), (16, 3.0), (17, 3.05), (18, 3.0), (23, 3.03), (37, 3.03),
         (38, 3.2), (39, 4.09), (41, 4.17), (42, 4.04), (43, 4.93), (45, 4.58), (46, 3.83),
         (47, 3.44), (48, 3.87), (50, 5.13), (51, 6.06), (52, 6.12), (53, 4.39), (54, 5.17),
         (55, 6.53), (56, 5.90), (58, 5.08), (59, 4.52), (61, 4.00), (62, 3.83), (63, 4.74),
         (64, 4.52), (65, 4.04), (66, 4.48), (67, 4.65), (69, 4.19), (70, 4.02), (71, 3.98),
         (73, 4.02), (75, 3.78), (76, 3.59), (77, 3.42), (79, 3.65), (80, 3.40), (82, 3.31),
         (84, 3.24), (85, 6.10), (86, 5.34), (87, 6.16), (88, 5.73), (89, 5.47), (90, 4.52),
         (91, 4.84), (93, 3.96), (94, 3.91), (95, 4.06), (96, 3.83), (97, 3.59), (98, 4.09),
         (99, 3.96), (100, 4.89), (102, 5.13), (103, 4.65), (105, 4.09), (106, 5.30),
         (107, 6.42), (108, 9.06), (109, 8.87), (110, 8.78), (112, 8.76), (113, 5.99),
         (114, 5.13), (116, 4.78), (117, 4.65), (118, 4.76), (119, 6.84), (120, 6.79),
         (121, 5.38), (122, 5.86), (123, 6.03), (124, 5.95), (125, 6.25), (126, 7.72),
         (127, 9.19), (128, 8.59), (129, 7.29), (130, 6.08), (131, 5.30), (132, 5.02),
         (133, 5.56), (134, 7.64), (135, 7.66), (136, 5.99), (137, 5.17), (138, 5.21),
         (140, 4.95), (141, 4.78), (142, 5.90), (143, 6.57), (144, 5.99), (145, 5.08),
         (146, 5.34), (147, 6.00), (148, 6.42), (149, 7.51), (150, 9.13), (151, 8.00),
         (152, 6.68), (153, 6.47), (154, 7.85), (155, 7.85), (156, 7.12), (157, 6.47),
         (158, 6.86), (159, 6.55), (160, 5.90), (161, 5.60), (162, 6.42), (163, 6.25),
         (164, 6.16), (165, 6.19), (166, 5.30), (167, 5.30), (168, 7.07), (169, 6.86),
         (170, 7.03), (171, 6.34), (172, 6.68), (173, 6.90), (175, 7.03), (176, 7.94),
         (177, 8.33), (178, 9.15), (179, 8.76), (180, 7.77), (181, 6.77), (182, 6.34),
         (183, 6.49), (184, 6.94), (186, 7.64), (187, 6.30), (188, 5.73), (189, 5.60),
         (191, 5.60), (192, 5.30), (193, 5.08), (195, 4.87), (196, 4.82), (198, 4.78),
         (199, 4.99), (201, 4.99), (202, 5.69), (203, 5.77), (204, 5.08), (205, 4.95),
         (206, 4.87), (208, 4.65), (209, 4.52), (211, 4.39), (212, 4.69), (213, 4.43),
         (214, 4.41), (216, 4.52), (217, 4.30), (220, 4.28), (222, 4.22), (224, 4.17),
         (225, 4.15), (227, 4.24), (229, 4.24), (231, 4.28), (233, 4.24), (235, 4.17),
         (237, 3.96), (239, 3.91), (242, 4.15), (243, 3.91), (245, 3.89), (247, 3.96),
         (249, 3.83), (251, 3.80), (252, 3.65), (254, 3.74), (256, 3.65), (258, 3.22),
         (260, 3.16), (266, 3.13), (268, 3.40), (269, 3.50), (271, 3.57), (274, 3.57),
         (277, 3.55), (279, 3.48), (281, 3.39), (283, 3.37), (285, 3.33), (287, 3.24),
         (289, 3.18), (293, 3.16), (297, 3.09), (299, 3.11), (302, 3.13), (304, 3.12),
         (308, 3.09), (310, 2.96), (312, 3.18), (314, 3.16), (317, 3.24), (319, 3.46),
         (327, 3.46), (330, 3.48), (331, 3.96), (333, 3.91), (334, 3.85), (335, 3.76),
         (338, 3.65), (340, 3.61), (343, 3.57), (345, 3.57), (347, 3.55), (350, 3.48),
         (352, 3.31), (355, 3.22), (357, 3.13), (360, 3.07), (361, 3.46), (365, 3.46)]
s2568 = [(0, 3.45), (8, 3.45), (9, 3.75), (10, 3.98), (11, 4.05), (12, 4.12), (13, 3.95),
         (14, 3.93), (15, 3.93), (16, 4.10), (17, 4.30), (18, 4.41), (19, 4.20), (20, 4.05),
         (21, 3.98), (22, 3.88), (23, 3.83), (24, 3.76), (25, 3.72), (26, 3.68), (27, 3.63),
         (28, 3.55), (29, 3.48), (30, 3.80), (31, 3.75), (32, 3.80), (33, 4.56), (34, 4.06)]

thin_years = ['2532', '2533', '2534', '2535', '2536', '2537', '2538', '2539',
              '2540', '2541', '2542', '2543', '2544', '2545', '2546', '2546',
              '2548', '2549', '2550', '2551', '2552', '2553', '2554', '2555',
              '2556', '2557', '2558', '2559', '2560', '2561', '2562', '2563']
thin_values = [v2532, v2533, v2534, v2535, v2536, v2537, v2538, v2539,
               v2540, v2541, v2542, v2543, v2544, v2545, v2546a, v2546b,
               v2548, v2549, v2550, v2551, v2552, v2553, v2554, v2555,
               v2556, v2557, v2558, v2559, v2560, v2561, v2562, v2563]
thin_colors = ['#4F81BD', '#C0504D', '#9BBB59', '#8064A2', '#4BACC6', '#F79646', '#2C5D9A', '#9B2F2C',
               '#76923C', '#5F497A', '#31859C', '#E46C0A', '#3A6AA8', '#B83B38', '#8AAA4A', '#6E5591',
               '#93CDDD', '#FAC090', '#95B3D7', '#4D4D4D', '#C3D69B', '#B3A2C7', '#8ED0E0', '#FAC08F',
               '#6F94CD', '#D5706D', '#A6C46E', '#9A85B8', '#6DBCD0', '#F9A96A', '#9DB6D8', '#E2A9A8']


def with_gap(days, vals):
    days = np.asarray(days, float)
    vals = np.asarray(vals, float)
    i = np.searchsorted(days, gap_day)
    if 0 < i < len(days) and days[i] != gap_day:
        days = np.insert(days, i, gap_day)
        vals = np.insert(vals, i, np.nan)
    return days, vals


# ---------------- figure ----------------
fig = plt.figure(figsize=(19.53, 10.01), dpi=100)
ax = fig.add_axes([158 / 1953, 35 / 1001, 1776 / 1953, 962 / 1001])

handles = []
for year, vals, col in zip(thin_years, thin_values, thin_colors):
    days = d2542 if vals is v2542 else thin_days
    assert len(days) == len(vals), (year, len(vals))
    x, y = with_gap(days, vals)
    lw = 1.5 if year in ('2548', '2549', '2550', '2551', '2552', '2553', '2554', '2555') else 1.0
    ln, = ax.plot(x, y, color=col, lw=lw, label=year, solid_joinstyle='round')
    handles.append(ln)

thick = [('2564', s2564, '#7030A0', 2.8),
         ('2565', s2565, '#A5CAD9', 5.0),
         ('2566', s2566, '#FFC000', 2.8),
         ('2567', s2567, '#FFFF00', 3.0),
         ('2568', s2568, '#FF0000', 5.5)]
for year, pts, col, lw in thick:
    d, v = zip(*pts)
    if year == '2565':
        d, v = with_gap(d, v)
    ln, = ax.plot(d, v, color=col, lw=lw, label=year,
                  solid_joinstyle='round', solid_capstyle='round')
    handles.append(ln)

bank, = ax.plot([0, 365], [bank_level, bank_level], color='#FF0000', lw=3.5,
                ls=(0, (3, 1.6)), label='ตลิ่ง')
handles.append(bank)

ax.text(212, bank_level + 0.38, 'ระดับเตือนภัย 8.30 เมตร (ร.ท.ก.)', color='#1C1C8C',
        fontsize=17, family=[thai_font, 'DejaVu Sans'], va='center', ha='left')

# axes
ax.set_xlim(0, 365)
ax.set_ylim(-0.5, 12)
ax.set_yticks(np.arange(-0.5, 11.6, 1.0))
ax.set_yticklabels([f'{t:.2f}' for t in np.arange(-0.5, 11.6, 1.0)], fontsize=15)
ax.set_xticks(tick_days)
ax.set_xticklabels(tick_labels, fontsize=12.5, family=['Liberation Sans Narrow', 'DejaVu Sans'])
ax.tick_params(axis='both', direction='out', length=6, width=1.2, colors='black')
ax.tick_params(axis='x', pad=5)
ax.tick_params(axis='y', pad=10)
ax.grid(axis='y', color='#A6A6A6', lw=1.4)
ax.set_axisbelow(True)
for side in ('left', 'bottom'):
    ax.spines[side].set_linewidth(1.8)
ax.spines['right'].set_linewidth(1.2)
ax.spines['top'].set_visible(False)

fig.text(50 / 1953, 1 - 486 / 1001, 'ระดับน้ำ  -  เมตร (ร.ท.ก.)', rotation=90,
         ha='center', va='center', fontsize=19, fontweight='bold',
         family=[thai_font, 'DejaVu Sans'])

# legend, filled row by row like the original
ncol = 8
nrow = int(np.ceil(len(handles) / ncol))
order = []
for c in range(ncol):
    for r in range(nrow):
        k = r * ncol + c
        if k < len(handles):
            order.append(k)
leg = ax.legend([handles[k] for k in order], [handles[k].get_label() for k in order],
                ncol=ncol, loc='upper right', bbox_to_anchor=((1898 - 158) / 1776, (966 - 12) / 962),
                prop={'family': ['DejaVu Sans', thai_font], 'size': 10.5},
                handlelength=4.3, handletextpad=0.6, columnspacing=1.9, labelspacing=1.65,
                borderpad=0.9, frameon=True, fancybox=False, edgecolor='#808080', framealpha=1)
leg.get_frame().set_linewidth(1.0)

fig.savefig('out.png', dpi=100)
